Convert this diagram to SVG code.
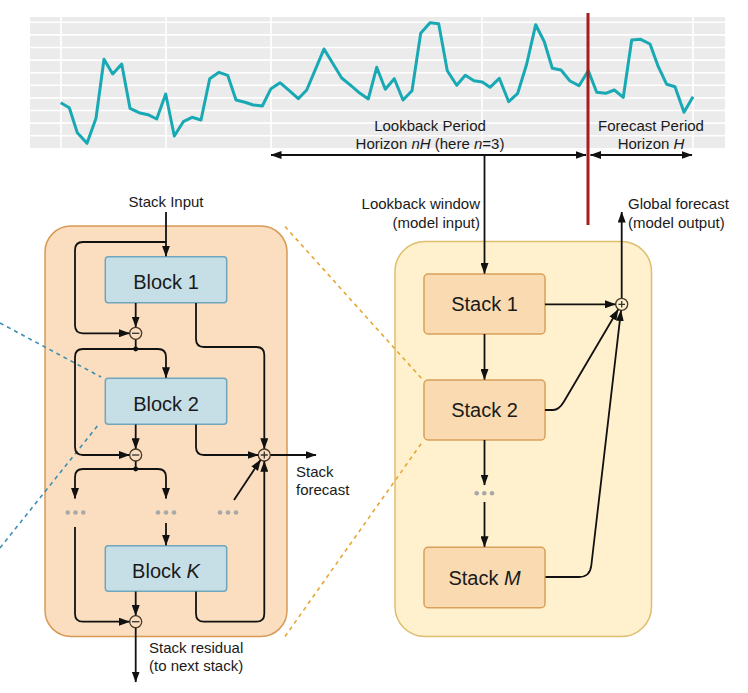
<svg xmlns="http://www.w3.org/2000/svg" width="748" height="693" viewBox="0 0 748 693">
<defs>
<marker id="ah" markerUnits="userSpaceOnUse" markerWidth="11" markerHeight="8" refX="10.5" refY="4" orient="auto-start-reverse"><path d="M0,0 L11,4 L0,8 z" fill="#111"/></marker>
<style>
text{font-family:"Liberation Sans",Arial,sans-serif;fill:#1a1a1a}
.sm{font-size:15px}
.big{font-size:20px}
.c{stroke:#111;stroke-width:1.8;fill:none}
.a{marker-end:url(#ah)}
.grid{stroke:#fff;stroke-width:1.6}
.blk{fill:#C6DFE6;stroke:#6FA6BC;stroke-width:1.5}
.stk{fill:#F9DAB1;stroke:#D9A05B;stroke-width:1.5}
.op{fill:none;stroke:#4a3a2a;stroke-width:1.3}
.dots{fill:#A8A8A8}
</style>
</defs>
<g id="chart">
<rect x="30" y="17" width="695" height="131" fill="#EBEBEB"/>
<g class="grid">
<line x1="30" y1="22.3" x2="725" y2="22.3"/><line x1="30" y1="34.9" x2="725" y2="34.9"/><line x1="30" y1="47.5" x2="725" y2="47.5"/><line x1="30" y1="60.1" x2="725" y2="60.1"/><line x1="30" y1="72.7" x2="725" y2="72.7"/><line x1="30" y1="85.3" x2="725" y2="85.3"/><line x1="30" y1="97.9" x2="725" y2="97.9"/><line x1="30" y1="110.5" x2="725" y2="110.5"/><line x1="30" y1="123.1" x2="725" y2="123.1"/><line x1="30" y1="135.7" x2="725" y2="135.7"/>
<line x1="61" y1="17" x2="61" y2="148"/><line x1="166" y1="17" x2="166" y2="148"/><line x1="271" y1="17" x2="271" y2="148"/><line x1="482" y1="17" x2="482" y2="148"/><line x1="693" y1="17" x2="693" y2="148"/>
</g>
<polyline fill="none" stroke="#19A9B4" stroke-width="3" stroke-linejoin="round" points="60.7,102.7 69.3,107.7 77.3,132.7 87,143.3 96,118.3 104,59.3 112.7,74 121.7,64 130,108.3 139,112.7 148,114.7 156.7,119 165.7,94 174.3,136 183.3,121.7 192,117.3 201,120 209.7,78.7 219,72.3 227.7,75.3 236,100 245,102.3 253.3,105 262.3,106 271,88.7 280,82.7 289.3,90.7 298.3,98.7 306.7,90 315.3,69.7 324,49 332.7,63.3 341.7,78 351,85.7 360,93.3 368.3,99 376.7,67.3 385.3,89.3 394.3,78.7 403,100 412,90.7 420.7,33.3 430,22.7 438.7,23.7 447.3,70.7 456.7,85.3 465.3,75.3 474,80.7 482.3,82 490,87.3 499.3,78.3 508.7,101.7 517.7,93.3 526.7,64 535.7,24.7 544.3,41.7 552.3,68.3 561,70 570,81 579,85.7 588.3,70.7 596.7,92.3 605.7,93.3 614.3,90 623.3,97.3 631.7,40 640.7,39.3 650,44 658.3,66.7 666.7,84.3 675,86.7 684,112.3 693,96.7"/>
<line x1="588" y1="13" x2="588" y2="225" stroke="#A51E1E" stroke-width="3"/>
<text class="sm" x="430" y="131" text-anchor="middle">Lookback Period</text>
<text class="sm" x="430" y="148.5" text-anchor="middle">Horizon <tspan font-style="italic">nH</tspan> (here <tspan font-style="italic">n</tspan>=3)</text>
<text class="sm" x="651" y="131" text-anchor="middle">Forecast Period</text>
<text class="sm" x="651" y="148.5" text-anchor="middle">Horizon <tspan font-style="italic">H</tspan></text>
</g>
<g id="containers">
<rect x="45" y="226" width="242" height="410.5" rx="26" fill="#FADEBF" stroke="#D89A55" stroke-width="1.5"/>
<rect x="395" y="241.5" width="256.5" height="395" rx="30" fill="#FFF1CE" stroke="#DDBE6C" stroke-width="1.5"/>
</g>
<g id="zoom-lines" fill="none" stroke-dasharray="4,4" stroke-width="1.6">
<line x1="0" y1="323" x2="101" y2="377" stroke="#3D8EB4"/>
<line x1="0" y1="548" x2="99" y2="424" stroke="#3D8EB4"/>
<line x1="285" y1="226.5" x2="422" y2="379" stroke="#E5A734"/>
<line x1="285" y1="636.5" x2="423" y2="441" stroke="#E5A734"/>
</g>
<g id="block1"><rect class="blk" x="105.3" y="256.7" width="121.4" height="46" rx="3"/><text class="big" x="166" y="289" text-anchor="middle">Block 1</text></g>
<g id="block2"><rect class="blk" x="105.3" y="378.3" width="121.4" height="46" rx="3"/><text class="big" x="166" y="410.5" text-anchor="middle">Block 2</text></g>
<g id="blockK"><rect class="blk" x="105.3" y="545.7" width="121.4" height="45.5" rx="3"/><text class="big" x="166" y="577.5" text-anchor="middle">Block <tspan font-style="italic">K</tspan></text></g>
<g id="stack1"><rect class="stk" x="424" y="274" width="121" height="60" rx="4"/><text class="big" x="484.5" y="311" text-anchor="middle">Stack 1</text></g>
<g id="stack2"><rect class="stk" x="424" y="380" width="121" height="60" rx="4"/><text class="big" x="484.5" y="417" text-anchor="middle">Stack 2</text></g>
<g id="stackM"><rect class="stk" x="424" y="547.3" width="121" height="60.4" rx="4"/><text class="big" x="484.5" y="584.5" text-anchor="middle">Stack <tspan font-style="italic">M</tspan></text></g>
<g id="ops">
<circle class="op" cx="135.7" cy="333.3" r="6"/><line x1="132" y1="333.3" x2="139.4" y2="333.3" stroke="#333" stroke-width="1.3"/>
<circle class="op" cx="135.7" cy="455" r="6"/><line x1="132" y1="455" x2="139.4" y2="455" stroke="#333" stroke-width="1.3"/>
<circle class="op" cx="135.7" cy="621.7" r="6"/><line x1="132" y1="621.7" x2="139.4" y2="621.7" stroke="#333" stroke-width="1.3"/>
<circle class="op" cx="264.3" cy="455" r="6"/><path d="M260.8,455 H267.8 M264.3,451.5 V458.5" stroke="#333" stroke-width="1.3"/>
<circle cx="621.7" cy="304.3" r="6" fill="#FFF1CE" stroke="#4a3a2a" stroke-width="1.3"/><path d="M618.4,304.3 H625 M621.7,301 V307.6" stroke="#333" stroke-width="1.3"/>
<circle cx="135.7" cy="349" r="2.4" fill="#111"/><circle cx="135.7" cy="469" r="2.4" fill="#111"/>
</g>
<g id="ellipses" class="dots">
<circle cx="67.7" cy="512.5" r="2.3"/><circle cx="75.5" cy="512.5" r="2.3"/><circle cx="83.3" cy="512.5" r="2.3"/>
<circle cx="158" cy="512.5" r="2.3"/><circle cx="166" cy="512.5" r="2.3"/><circle cx="174" cy="512.5" r="2.3"/>
<circle cx="220" cy="512.5" r="2.3"/><circle cx="228" cy="512.5" r="2.3"/><circle cx="236" cy="512.5" r="2.3"/>
<circle cx="476.7" cy="493.3" r="2.3"/><circle cx="484.3" cy="493.3" r="2.3"/><circle cx="492" cy="493.3" r="2.3"/>
</g>
<g id="connectors">
<path class="c" d="M271,155 H586" marker-start="url(#ah)" marker-end="url(#ah)"/>
<path class="c" d="M590.5,155 H692" marker-start="url(#ah)" marker-end="url(#ah)"/>
<path class="c a" d="M484.5,155 V273.5"/>
<path class="c a" d="M166,212 V256.2"/>
<path class="c a" d="M166,242 H83 Q75,242 75,250 V325.3 Q75,333.3 83,333.3 H129.5"/>
<path class="c a" d="M135.7,303 V327"/>
<path class="c" d="M135.7,339.5 V349"/>
<path class="c a" d="M135.7,349 H83 Q75,349 75,357 V447 Q75,455 83,455 H129.5"/>
<path class="c a" d="M135.7,349 H158 Q166,349 166,357 V377.8"/>
<path class="c a" d="M135.7,424.5 V448.8"/>
<path class="c a" d="M196,303 V339 Q196,347 204,347 H256.3 Q264.3,347 264.3,355 V448.8"/>
<path class="c a" d="M196,424.5 V447 Q196,455 204,455 H258"/>
<path class="c a" d="M270.5,455 H316"/>
<path class="c" d="M135.7,461.2 V469"/>
<path class="c a" d="M135.7,469 H83 Q75,469 75,477 V498.5"/>
<path class="c a" d="M135.7,469 H158 Q166,469 166,477 V498.5"/>
<path class="c a" d="M166,523 V545.2"/>
<path class="c a" d="M75,527 V613.7 Q75,621.7 83,621.7 H129.5"/>
<path class="c a" d="M135.7,591.5 V615.5"/>
<path class="c a" d="M196,591.5 V613.7 Q196,621.7 204,621.7 H256.3 Q264.3,621.7 264.3,613.7 V461.3"/>
<path class="c a" d="M234,500 L260.5,460"/>
<path class="c a" d="M135.7,628 V682"/>
<path class="c a" d="M484.5,334 V379.5"/>
<path class="c a" d="M484.5,440 V485"/>
<path class="c a" d="M484.5,502 V546.8"/>
<path class="c a" d="M545,304.3 H615.5"/>
<path class="c a" d="M545,410 H553 Q559,410 564,401.5 L618.2,309.5"/>
<path class="c a" d="M545.5,577 H579 Q590,577 591.3,565.5 L621,310.6"/>
<path class="c a" d="M621.7,298 V212"/>
</g>
<g id="labels">
<text class="sm" x="166" y="207" text-anchor="middle">Stack Input</text>
<text class="sm" x="480" y="208.5" text-anchor="end">Lookback window</text>
<text class="sm" x="480" y="227.5" text-anchor="end">(model input)</text>
<text class="sm" x="628" y="208.5">Global forecast</text>
<text class="sm" x="628" y="227.5">(model output)</text>
<text class="sm" x="296" y="477">Stack</text>
<text class="sm" x="296" y="495">forecast</text>
<text class="sm" x="149" y="653">Stack residual</text>
<text class="sm" x="149" y="671">(to next stack)</text>
</g>
</svg>
